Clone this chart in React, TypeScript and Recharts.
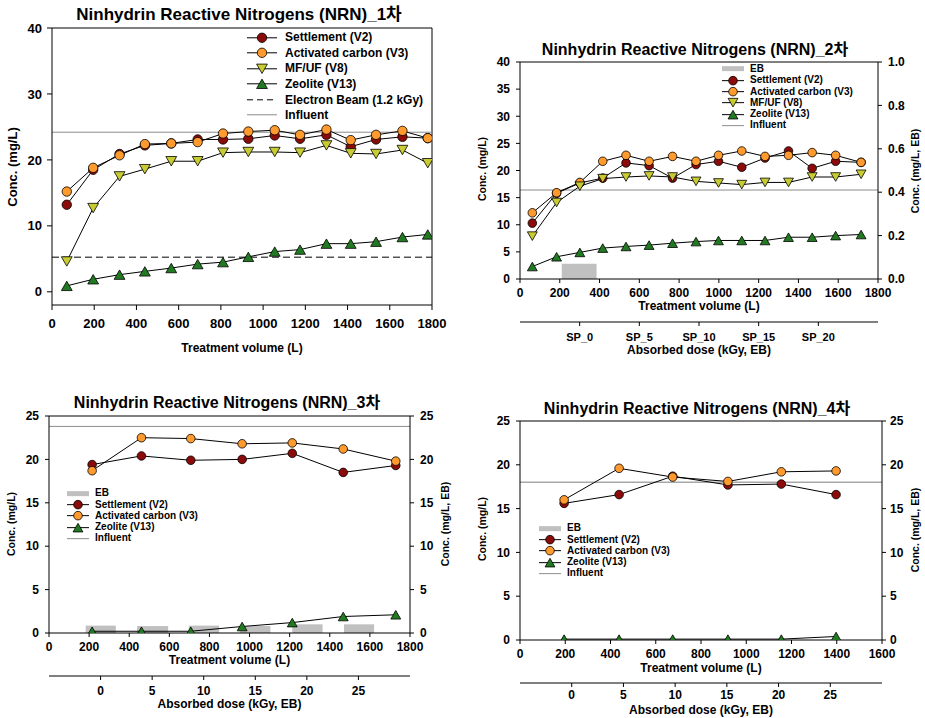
import React from 'react';
import { ComposedChart, Line, XAxis, YAxis, ReferenceLine, ReferenceArea } from 'recharts';

const FONT = 'Arial, "Liberation Sans", "Noto Sans CJK KR", sans-serif';

// colours of the four treatment series
const C_SETTLE = '#8b0a0a';
const C_CARBON = '#ff9a2e';
const C_MFUF = '#c8cc32';
const C_ZEO = '#217a21';

// ---- 1차 ----
const P1_VOL = [70, 195, 320, 440, 565, 690, 810, 930, 1055, 1175, 1300, 1415, 1535, 1660, 1780];
const P1_SETTLE = [13.2, 18.5, 20.9, 22.2, 22.5, 23.1, 23.1, 23.2, 23.7, 23.2, 23.8, 22.0, 23.1, 23.5, 23.3];
const P1_CARBON = [15.2, 18.8, 20.7, 22.4, 22.5, 22.7, 24.0, 24.3, 24.5, 23.8, 24.6, 23.0, 23.8, 24.4, 23.3];
const P1_MFUF = [4.6, 12.7, 17.5, 18.6, 19.8, 19.8, 21.1, 21.2, 21.2, 21.1, 22.2, 21.0, 20.9, 21.5, 19.5];
const P1_ZEO = [0.9, 1.9, 2.6, 3.1, 3.6, 4.2, 4.5, 5.3, 6.1, 6.4, 7.3, 7.3, 7.6, 8.3, 8.7];
const P1_INFLUENT = 24.2;
const P1_EB_LINE = 5.25;

// ---- 2차 ----
const P2_VOL = [62, 184, 301, 416, 533, 649, 767, 885, 998, 1115, 1232, 1350, 1469, 1587, 1715];
const P2_SETTLE = [10.3, 15.8, 17.7, 18.6, 21.4, 20.9, 18.6, 21.1, 21.7, 20.6, 22.3, 23.6, 20.4, 21.7, 21.5];
const P2_CARBON = [12.2, 15.9, 17.8, 21.7, 22.8, 21.7, 22.6, 21.7, 22.8, 23.6, 22.6, 22.8, 23.3, 22.8, 21.5];
const P2_MFUF = [7.9, 14.1, 17.1, 18.5, 18.8, 19.0, 18.8, 18.0, 17.7, 17.4, 17.8, 17.8, 18.8, 18.8, 19.3];
const P2_ZEO = [2.3, 4.1, 4.9, 5.7, 6.0, 6.25, 6.6, 6.9, 7.1, 7.1, 7.1, 7.7, 7.7, 8.0, 8.2];
const P2_INFLUENT = 16.4;
const P2_EB_START = [210];
const P2_EB_END = [385];
const P2_EB_VALUE = [0.07];
const P2_DOSE_TICKS = [0, 5, 10, 15, 20];
const P2_DOSE_LABELS = ['SP_0', 'SP_5', 'SP_10', 'SP_15', 'SP_20'];

// ---- 3차 ----
const P3_VOL = [215, 461, 707, 963, 1213, 1467, 1729];
const P3_SETTLE = [19.4, 20.4, 19.9, 20.0, 20.7, 18.5, 19.3];
const P3_CARBON = [18.7, 22.5, 22.4, 21.8, 21.9, 21.2, 19.8];
const P3_ZEO = [0.2, 0.2, 0.2, 0.75, 1.2, 1.9, 2.1];
const P3_INFLUENT = 23.8;
const P3_EB_START = [183, 439, 697, 951, 1213, 1471];
const P3_EB_END = [333, 594, 848, 1104, 1364, 1621];
const P3_EB_VALUE = [0.85, 0.8, 0.85, 0.8, 1.0, 1.0];

// ---- 4차 ----
const P4_VOL = [195, 438, 675, 919, 1155, 1397];
const P4_SETTLE = [15.6, 16.6, 18.7, 17.7, 17.8, 16.6];
const P4_CARBON = [16.0, 19.6, 18.6, 18.1, 19.2, 19.3];
const P4_ZEO = [0.1, 0.1, 0.1, 0.1, 0.1, 0.4];
const P4_INFLUENT = 18.0;

// axis ticks
const VOL_TICKS_1800 = [0, 200, 400, 600, 800, 1000, 1200, 1400, 1600, 1800];
const VOL_TICKS_1600 = [0, 200, 400, 600, 800, 1000, 1200, 1400, 1600];
const CONC_TICKS_40 = [0, 10, 20, 30, 40];
const CONC_TICKS_40_BY5 = [0, 5, 10, 15, 20, 25, 30, 35, 40];
const CONC_TICKS_25 = [0, 5, 10, 15, 20, 25];
const EB_TICKS_1 = [0, 0.2, 0.4, 0.6, 0.8, 1.0];
const DOSE_TICKS = [0, 5, 10, 15, 20, 25];

const buildRows = (vol: number[], series: Record<string, number[]>) =>
  vol.map((v, i) => {
    const row: any = { vol: v };
    Object.keys(series).forEach(k => { row[k] = series[k][i]; });
    return row;
  });

function Marker({ cx, cy, shape, fill, size }: any) {
  if (cx == null || cy == null) return null;
  if (shape === 'circle') {
    return <circle cx={cx} cy={cy} r={size} fill={fill} stroke="#000" strokeWidth={0.8} />;
  }
  const w = size * 1.15;
  const h = size * 1.0;
  const pts = shape === 'down'
    ? `${cx - w},${cy - h} ${cx + w},${cy - h} ${cx},${cy + h}`
    : `${cx - w},${cy + h} ${cx + w},${cy + h} ${cx},${cy - h}`;
  return <polygon points={pts} fill={fill} stroke="#000" strokeWidth={0.8} />;
}

const SERIES: Record<string, { name: string; shape: string; color: string }> = {
  settle: { name: 'Settlement (V2)', shape: 'circle', color: C_SETTLE },
  carbon: { name: 'Activated carbon (V3)', shape: 'circle', color: C_CARBON },
  mfuf: { name: 'MF/UF (V8)', shape: 'down', color: C_MFUF },
  zeo: { name: 'Zeolite (V13)', shape: 'up', color: C_ZEO },
};

function LegendBox({ x, y, gap, fontSize, symW, textGap, size, rows }: any) {
  return (
    <div style={{ position: 'absolute', left: x, top: y - gap / 2, fontFamily: FONT, fontWeight: 700, fontSize }}>
      {rows.map((r: any, i: number) => (
        <div key={i} style={{ display: 'flex', alignItems: 'center', height: gap, whiteSpace: 'nowrap' }}>
          <svg width={symW} height={gap} style={{ display: 'block' }}>
            {r.kind === 'bar' && <rect x={0} y={gap / 2 - 2.5} width={symW} height={5} fill="#c0c0c0" />}
            {r.kind === 'dash' && <line x1={0} x2={symW} y1={gap / 2} y2={gap / 2} stroke="#000" strokeWidth={1} strokeDasharray="6 4" />}
            {r.kind === 'influent' && <line x1={0} x2={symW} y1={gap / 2} y2={gap / 2} stroke="#8c8c8c" strokeWidth={1} />}
            {SERIES[r.kind] && (
              <>
                <line x1={0} x2={symW} y1={gap / 2} y2={gap / 2} stroke="#000" strokeWidth={1} />
                <Marker cx={symW / 2} cy={gap / 2} shape={SERIES[r.kind].shape} fill={SERIES[r.kind].color} size={size} />
              </>
            )}
          </svg>
          <span style={{ marginLeft: textGap, lineHeight: 1 }}>{r.label}</span>
        </div>
      ))}
    </div>
  );
}

function Title({ x, y, size, text }: any) {
  return (
    <div style={{ position: 'absolute', left: x, top: y, transform: 'translate(-50%, -50%)', fontFamily: FONT, fontWeight: 700, fontSize: size, lineHeight: 1, whiteSpace: 'nowrap' }}>
      {text}
    </div>
  );
}

function VTitle({ x, y, size, text }: any) {
  return (
    <div style={{ position: 'absolute', left: x, top: y, transform: 'translate(-50%, -50%) rotate(-90deg)', fontFamily: FONT, fontWeight: 700, fontSize: size, lineHeight: 1, whiteSpace: 'nowrap' }}>
      {text}
    </div>
  );
}

function Panel(p: any) {
  const tick = { fill: '#000', fontSize: p.tickFont, fontWeight: 700, fontFamily: FONT };
  const axisLabel = { fill: '#000', fontSize: 12, fontWeight: 700, fontFamily: FONT };
  const keys = p.keys as string[];
  return (
    <div style={{ position: 'absolute', left: p.left, top: p.top }}>
      <ComposedChart width={p.width} height={p.height} data={p.rows} margin={p.margin}>
        {/* dose axis is declared first; the id order keeps the volume axis next to the plot */}
        {p.dose && (
          <XAxis
            xAxisId="x2dose" dataKey="dose" type="number" domain={p.dose.domain} ticks={p.dose.ticks} interval={0}
            allowDataOverflow height={p.dose.height} tickSize={p.tickSize} tickMargin={p.dose.tickMargin}
            stroke="#000" tick={{ ...tick, fontSize: p.dose.fontSize }}
            tickFormatter={(v: number) => p.dose.labels ? p.dose.labels[p.dose.ticks.indexOf(v)] : String(v)}
            label={{ value: 'Absorbed dose (kGy, EB)', position: 'insideBottom', offset: p.dose.labelOffset, ...axisLabel }}
          />
        )}
        <XAxis
          xAxisId="x1vol" dataKey="vol" type="number" domain={p.volDomain} ticks={p.volTicks} interval={0}
          allowDataOverflow height={p.volHeight} tickSize={p.tickSize} tickMargin={p.volTickMargin}
          stroke="#000" tick={tick}
          label={{ value: 'Treatment volume (L)', position: 'insideBottom', offset: p.volLabelOffset, ...axisLabel }}
        />
        <YAxis
          yAxisId="left" type="number" domain={p.yDomain} ticks={p.yTicks} interval={0} allowDataOverflow
          width={p.yWidth} tickSize={p.tickSize} tickMargin={p.yTickMargin} stroke="#000" tick={tick}
        />
        {p.right && (
          <YAxis
            yAxisId="right" orientation="right" type="number" domain={p.right.domain} ticks={p.right.ticks}
            interval={0} allowDataOverflow width={p.right.width} tickSize={p.tickSize} tickMargin={p.right.tickMargin}
            stroke="#000" tick={tick} tickFormatter={p.right.format}
          />
        )}
        {p.ebBars && p.ebBars.start.map((s: number, i: number) => (
          <ReferenceArea
            key={`eb-${i}`} xAxisId="x1vol" yAxisId="right" x1={s} x2={p.ebBars.end[i]} y1={0} y2={p.ebBars.value[i]}
            fill="#c0c0c0" fillOpacity={1} stroke="none" ifOverflow="visible"
          />
        ))}
        <ReferenceLine xAxisId="x1vol" yAxisId="left" y={p.yDomain[1]} stroke="#000" strokeWidth={1} />
        {p.frameRight && <ReferenceLine xAxisId="x1vol" yAxisId="left" x={p.volDomain[1]} stroke="#000" strokeWidth={1} />}
        <ReferenceLine xAxisId="x1vol" yAxisId="left" y={p.influent} stroke={p.influentColor} strokeWidth={p.influentWidth} />
        {p.ebLine != null && (
          <ReferenceLine xAxisId="x1vol" yAxisId="left" y={p.ebLine} stroke="#000" strokeWidth={1} strokeDasharray="7 4" />
        )}
        {keys.map(k => (
          <Line
            key={k} xAxisId="x1vol" yAxisId="left" dataKey={k} name={SERIES[k].name} stroke="#000" strokeWidth={1}
            isAnimationActive={false} activeDot={false}
            dot={(d: any) => <Marker key={`${k}-${d.index}`} cx={d.cx} cy={d.cy} shape={SERIES[k].shape} fill={SERIES[k].color} size={p.markerSize} />}
          />
        ))}
      </ComposedChart>
    </div>
  );
}

export default function App() {
  const rows1 = buildRows(P1_VOL, { settle: P1_SETTLE, carbon: P1_CARBON, mfuf: P1_MFUF, zeo: P1_ZEO });
  const rows2 = buildRows(P2_VOL, { settle: P2_SETTLE, carbon: P2_CARBON, mfuf: P2_MFUF, zeo: P2_ZEO });
  const rows3 = buildRows(P3_VOL, { settle: P3_SETTLE, carbon: P3_CARBON, zeo: P3_ZEO });
  const rows4 = buildRows(P4_VOL, { settle: P4_SETTLE, carbon: P4_CARBON, zeo: P4_ZEO });

  return (
    <div style={{ position: 'absolute', left: 0, top: 0, width: 925, height: 718, background: '#fff', overflow: 'hidden' }}>
      {/* panel 1 */}
      <Panel
        left={0} top={0} width={460} height={360} margin={{ top: 28, right: 28, bottom: 0, left: 12 }}
        rows={rows1} keys={['settle', 'carbon', 'mfuf', 'zeo']}
        volDomain={[0, 1800]} volTicks={VOL_TICKS_1800} volHeight={55} volTickMargin={9} volLabelOffset={8}
        yDomain={[-2, 40]} yTicks={CONC_TICKS_40} yWidth={40} yTickMargin={5}
        tickSize={5} tickFont={13} markerSize={4.7}
        influent={P1_INFLUENT} influentColor="#8c8c8c" influentWidth={1} ebLine={P1_EB_LINE} frameRight
      />
      <Title x={239} y={14} size={17} text="Ninhydrin Reactive Nitrogens (NRN)_1차" />
      <VTitle x={12} y={167} size={13} text="Conc. (mg/L)" />
      <LegendBox
        x={247} y={37.3} gap={15.6} fontSize={12} symW={30} textGap={8} size={4.7}
        rows={[
          { kind: 'settle', label: 'Settlement (V2)' },
          { kind: 'carbon', label: 'Activated carbon (V3)' },
          { kind: 'mfuf', label: 'MF/UF (V8)' },
          { kind: 'zeo', label: 'Zeolite (V13)' },
          { kind: 'dash', label: 'Electron Beam (1.2 kGy)' },
          { kind: 'influent', label: 'Influent' },
        ]}
      />

      {/* panel 2 */}
      <Panel
        left={460} top={30} width={465} height={332} margin={{ top: 32, right: 17, bottom: 0, left: 15 }}
        rows={rows2} keys={['settle', 'carbon', 'mfuf', 'zeo']}
        volDomain={[0, 1800]} volTicks={VOL_TICKS_1800} volHeight={43} volTickMargin={5} volLabelOffset={12}
        dose={{ domain: [-5, 25], ticks: P2_DOSE_TICKS, labels: P2_DOSE_LABELS, height: 40, tickMargin: 7, labelOffset: 8, fontSize: 11 }}
        yDomain={[0, 40]} yTicks={CONC_TICKS_40_BY5} yWidth={45} yTickMargin={6}
        right={{ domain: [0, 1], ticks: EB_TICKS_1, width: 30, tickMargin: 6, format: (v: number) => v.toFixed(1) }}
        tickSize={4} tickFont={12} markerSize={4.3}
        influent={P2_INFLUENT} influentColor="#8c8c8c" influentWidth={1}
        ebBars={{ start: P2_EB_START, end: P2_EB_END, value: P2_EB_VALUE }}
      />
      <Title x={695} y={50} size={16} text="Ninhydrin Reactive Nitrogens (NRN)_2차" />
      <VTitle x={482} y={169} size={10.5} text="Conc. (mg/L)" />
      <VTitle x={915} y={171} size={10.5} text="Conc. (mg/L, EB)" />
      <LegendBox
        x={722} y={69} gap={11.3} fontSize={10} symW={22} textGap={6} size={4.3}
        rows={[
          { kind: 'bar', label: 'EB' },
          { kind: 'settle', label: 'Settlement (V2)' },
          { kind: 'carbon', label: 'Activated carbon (V3)' },
          { kind: 'mfuf', label: 'MF/UF (V8)' },
          { kind: 'zeo', label: 'Zeolite (V13)' },
          { kind: 'influent', label: 'Influent' },
        ]}
      />

      {/* panel 3 */}
      <Panel
        left={0} top={380} width={460} height={338} margin={{ top: 36, right: 20, bottom: 2, left: 9 }}
        rows={rows3} keys={['settle', 'carbon', 'zeo']}
        volDomain={[0, 1800]} volTicks={VOL_TICKS_1800} volHeight={43} volTickMargin={5} volLabelOffset={12}
        dose={{ domain: [-5, 30], ticks: DOSE_TICKS, height: 40, tickMargin: 6, labelOffset: 8, fontSize: 12 }}
        yDomain={[0, 25]} yTicks={CONC_TICKS_25} yWidth={40} yTickMargin={6}
        right={{ domain: [0, 25], ticks: CONC_TICKS_25, width: 30, tickMargin: 6 }}
        tickSize={4} tickFont={12} markerSize={4.3}
        influent={P3_INFLUENT} influentColor="#8c8c8c" influentWidth={1}
        ebBars={{ start: P3_EB_START, end: P3_EB_END, value: P3_EB_VALUE }}
      />
      <Title x={227} y={403} size={16} text="Ninhydrin Reactive Nitrogens (NRN)_3차" />
      <VTitle x={11} y={524} size={10.5} text="Conc. (mg/L)" />
      <VTitle x={445} y={524} size={10.5} text="Conc. (mg/L, EB)" />
      <LegendBox
        x={67} y={493.3} gap={11.3} fontSize={10} symW={22} textGap={6} size={4.3}
        rows={[
          { kind: 'bar', label: 'EB' },
          { kind: 'settle', label: 'Settlement (V2)' },
          { kind: 'carbon', label: 'Activated carbon (V3)' },
          { kind: 'zeo', label: 'Zeolite (V13)' },
          { kind: 'influent', label: 'Influent' },
        ]}
      />

      {/* panel 4 */}
      <Panel
        left={460} top={380} width={465} height={338} margin={{ top: 41, right: 13, bottom: 1, left: 15 }}
        rows={rows4} keys={['settle', 'carbon', 'zeo']}
        volDomain={[0, 1600]} volTicks={VOL_TICKS_1600} volHeight={43} volTickMargin={5} volLabelOffset={11}
        dose={{ domain: [-5, 30], ticks: DOSE_TICKS, height: 34, tickMargin: 3, labelOffset: 3, fontSize: 12 }}
        yDomain={[0, 25]} yTicks={CONC_TICKS_25} yWidth={45} yTickMargin={6}
        right={{ domain: [0, 25], ticks: CONC_TICKS_25, width: 30, tickMargin: 4 }}
        tickSize={4} tickFont={12} markerSize={4.3}
        influent={P4_INFLUENT} influentColor="#a8a8a8" influentWidth={1.6}
      />
      <Title x={697} y={409} size={16} text="Ninhydrin Reactive Nitrogens (NRN)_4차" />
      <VTitle x={482} y={529} size={10.5} text="Conc. (mg/L)" />
      <VTitle x={915} y={530} size={10.5} text="Conc. (mg/L, EB)" />
      <LegendBox
        x={539} y={528.3} gap={11.3} fontSize={10} symW={22} textGap={6} size={4.3}
        rows={[
          { kind: 'bar', label: 'EB' },
          { kind: 'settle', label: 'Settlement (V2)' },
          { kind: 'carbon', label: 'Activated carbon (V3)' },
          { kind: 'zeo', label: 'Zeolite (V13)' },
          { kind: 'influent', label: 'Influent' },
        ]}
      />
    </div>
  );
}
